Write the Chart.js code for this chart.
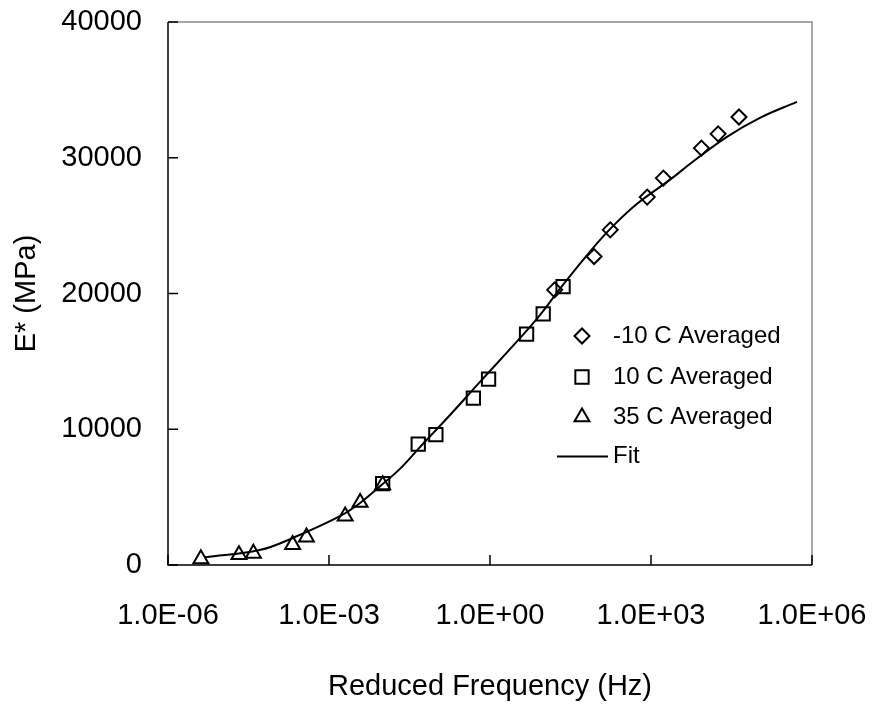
<!DOCTYPE html>
<html>
<head>
<meta charset="utf-8">
<script src="https://cdn.jsdelivr.net/npm/chart.js@4.4.1/dist/chart.umd.min.js"></script>
<style>
  html, body { margin: 0; padding: 0; background: #fff; }
</style>
</head>
<body>
<canvas id="chart" width="873" height="709"></canvas>
<script>
// axis ticks
const xTickValues = [1e-6, 1e-3, 1, 1e3, 1e6];
const xTickLabels = ["1.0E-06", "1.0E-03", "1.0E+00", "1.0E+03", "1.0E+06"];
const yTickValues = [0, 10000, 20000, 30000, 40000];

// -10 C averaged
const freqM10 = [16, 87, 174, 850, 1700, 8700, 17800, 43600];
const modM10 = [20270, 22720, 24690, 27100, 28500, 30710, 31760, 33000];

// 10 C averaged
const freq10 = [0.010, 0.046, 0.098, 0.49, 0.94, 4.8, 9.8, 23];
const mod10 = [6000, 8900, 9600, 12300, 13700, 17000, 18500, 20500];

// 35 C averaged
const freq35 = [4.1e-6, 2.1e-5, 3.9e-5, 2.1e-4, 3.8e-4, 2.0e-3, 3.8e-3, 1.0e-2];
const mod35 = [450, 750, 850, 1500, 2050, 3600, 4600, 5900];

// fit curve
const freqFit = [4.9e-6, 5.1e-5, 2.1e-4, 1.6e-3, 3.8e-3, 1.0e-2, 2.1e-2, 5.0e-2, 0.18, 0.65,
  4.1, 8.9, 20, 65, 174, 550, 2240, 6000, 26000, 107000, 525000];
const modFit = [570, 1100, 1990, 3600, 4570, 5970, 7080, 8700, 11050, 13490,
  16950, 18500, 20340, 22850, 24760, 26610, 28370, 29700, 31540, 32940, 34120];

const toPoints = (xs, ys) => xs.map((x, i) => ({ x: x, y: ys[i] }));

const FONT = '"Liberation Sans", Arial, sans-serif';

// frame: black left/bottom, grey top/right, inward ticks
const framePlugin = {
  id: "frame",
  beforeDatasetsDraw(chart) {
    const { ctx, chartArea: a, scales } = chart;
    ctx.save();
    ctx.lineWidth = 1.5;
    ctx.strokeStyle = "#8a8a8a";
    ctx.beginPath();
    ctx.moveTo(a.left, a.top);
    ctx.lineTo(a.right, a.top);
    ctx.lineTo(a.right, a.bottom);
    ctx.stroke();
    ctx.strokeStyle = "#000";
    ctx.beginPath();
    ctx.moveTo(a.left, a.top);
    ctx.lineTo(a.left, a.bottom);
    ctx.lineTo(a.right, a.bottom);
    ctx.stroke();
    ctx.beginPath();
    scales.x.ticks.forEach((t) => {
      const px = scales.x.getPixelForValue(t.value);
      ctx.moveTo(px, a.bottom);
      ctx.lineTo(px, a.bottom - 10);
    });
    scales.y.ticks.forEach((t) => {
      const py = scales.y.getPixelForValue(t.value);
      ctx.moveTo(a.left, py);
      ctx.lineTo(a.left + 10, py);
    });
    ctx.stroke();
    ctx.restore();
  },
};

// legend drawn inside the plot area
const legendPlugin = {
  id: "insideLegend",
  afterDatasetsDraw(chart) {
    const { ctx } = chart;
    const rows = [336, 377, 417, 456.5];
    ctx.save();
    ctx.font = "24px " + FONT;
    ctx.textBaseline = "middle";
    chart.data.datasets.forEach((ds, i) => {
      const y = rows[i];
      ctx.strokeStyle = "#000";
      ctx.lineWidth = 2;
      if (ds.type === "line") {
        ctx.beginPath();
        ctx.moveTo(557, y);
        ctx.lineTo(608, y);
        ctx.stroke();
      } else {
        ctx.fillStyle = "rgba(0,0,0,0)";
        Chart.helpers.drawPoint(ctx, {
          pointStyle: ds.pointStyle, radius: ds.pointRadius, rotation: 0, borderWidth: 2,
        }, 582, y);
      }
      ctx.fillStyle = "#000";
      ctx.fillText(ds.label, 613, y);
    });
    ctx.restore();
  },
};

const markerBase = {
  type: "scatter",
  showLine: false,
  borderColor: "#000",
  backgroundColor: "rgba(0,0,0,0)",
  pointBorderWidth: 2,
};

new Chart(document.getElementById("chart"), {
  type: "scatter",
  data: {
    datasets: [
      { ...markerBase, label: "-10 C Averaged", data: toPoints(freqM10, modM10), pointStyle: "rectRot", pointRadius: 7.5 },
      { ...markerBase, label: "10 C Averaged", data: toPoints(freq10, mod10), pointStyle: "rect", pointRadius: 9.4 },
      { ...markerBase, label: "35 C Averaged", data: toPoints(freq35, mod35), pointStyle: "triangle", pointRadius: 8.6 },
      {
        type: "line",
        label: "Fit",
        data: toPoints(freqFit, modFit),
        borderColor: "#000",
        borderWidth: 2,
        pointRadius: 0,
        fill: false,
        tension: 0.4,
      },
    ],
  },
  options: {
    responsive: false,
    animation: false,
    layout: { padding: { left: 6, right: 61, top: 22, bottom: 1 } },
    plugins: {
      legend: { display: false },
      tooltip: { enabled: false },
    },
    scales: {
      x: {
        type: "logarithmic",
        min: 1e-6,
        max: 1e6,
        grid: { display: false, drawTicks: false },
        border: { display: false },
        afterBuildTicks: (s) => { s.ticks = xTickValues.map((v) => ({ value: v })); },
        afterFit: (s) => {
          s.height = 143;
          s.paddingLeft = 0;
          s.paddingRight = 0;
        },
        ticks: {
          autoSkip: false,
          maxRotation: 0,
          padding: 34,
          color: "#000",
          font: { family: FONT, size: 29 },
          callback: (v) => xTickLabels[xTickValues.indexOf(v)],
        },
        title: {
          display: true,
          text: "Reduced Frequency (Hz)",
          color: "#000",
          font: { family: FONT, size: 29 },
          padding: { top: 4, bottom: 4 },
        },
      },
      y: {
        type: "linear",
        min: 0,
        max: 40000,
        grid: { display: false, drawTicks: false },
        border: { display: false },
        afterBuildTicks: (s) => { s.ticks = yTickValues.map((v) => ({ value: v })); },
        afterFit: (s) => {
          s.width = 162;
          s.paddingTop = 0;
          s.paddingBottom = 0;
        },
        ticks: {
          padding: 26,
          color: "#000",
          font: { family: FONT, size: 29 },
          callback: (v) => String(v),
        },
        title: {
          display: true,
          text: "E* (MPa)",
          color: "#000",
          font: { family: FONT, size: 29 },
          padding: { top: 4, bottom: 4 },
        },
      },
    },
  },
  plugins: [framePlugin, legendPlugin],
});
</script>
</body>
</html>
